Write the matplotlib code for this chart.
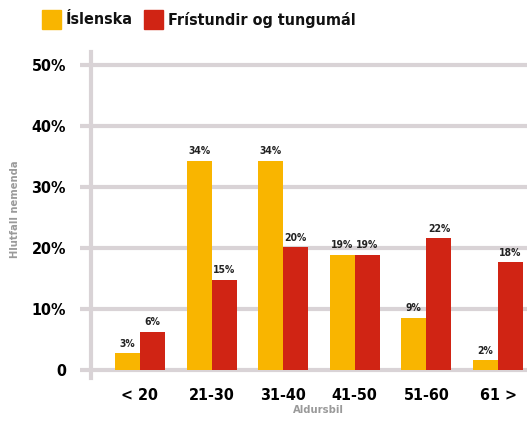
import matplotlib
matplotlib.use("Agg")
import matplotlib.pyplot as plt
from matplotlib import font_manager
from matplotlib.font_manager import FontProperties
import numpy as np

# data
groups = ["< 20", "21-30", "31-40", "41-50", "51-60", "61 >"]
islenska = [2.8, 34.3, 34.3, 18.9, 8.6, 1.6]
fristundir = [6.3, 14.8, 20.1, 18.9, 21.6, 17.7]
series_names = ["Íslenska", "Frístundir og tungumál"]
yticks = [0, 10, 20, 30, 40, 50]
ytick_labels = ["0", "10%", "20%", "30%", "40%", "50%"]

yellow = "#F9B500"
red = "#D02414"
grid = "#D9D3D6"

# look for a condensed/narrow bold font file
path = None
for f in font_manager.fontManager.ttflist:
    low = f.fname.lower()
    if ("condensed" in low or "narrow" in low) and "bold" in low and "oblique" not in low and "italic" not in low:
        path = f.fname
        break


def fp(size):
    if path:
        return FontProperties(fname=path, size=size)
    return FontProperties(family="DejaVu Sans", weight="bold", size=size * 0.8)


fig = plt.figure(figsize=(5.27, 4.34), dpi=100)
ax = fig.add_axes([91 / 527, 56 / 434, 436 / 527, 326 / 434])

x = np.arange(len(groups))
w = 0.35
b1 = ax.bar(x - w / 2, islenska, w, color=yellow, zorder=3)
b2 = ax.bar(x + w / 2, fristundir, w, color=red, zorder=3)

for bars, vals in ((b1, islenska), (b2, fristundir)):
    for rect, v in zip(bars, vals):
        ax.text(rect.get_x() + rect.get_width() / 2, v + 0.7, f"{v:.0f}%",
                ha="center", va="bottom", fontproperties=fp(7.5), color="#222222")

ax.set_xlim(-0.684, 5.405)
ax.set_ylim(-1.3, 52.1)
ax.set_yticks(yticks)
ax.set_yticklabels(ytick_labels, fontproperties=fp(11.5))
ax.set_xticks(x)
ax.set_xticklabels(groups, fontproperties=fp(11.5))
ax.tick_params(axis="y", length=8, width=3, color=grid, pad=10)
ax.tick_params(axis="x", length=0, pad=7)
ax.yaxis.grid(True, color=grid, linewidth=3, zorder=0)

for s in ("top", "right", "bottom"):
    ax.spines[s].set_visible(False)
ax.spines["left"].set_color(grid)
ax.spines["left"].set_linewidth(3)

fig.text(318 / 527, 1 - 410 / 434, "Aldursbil", ha="center", va="center",
         fontproperties=fp(8), color="#9A9A9A")
fig.text(15 / 527, 1 - 209 / 434, "Hlutfall nemenda", ha="center", va="center",
         rotation=90, fontproperties=fp(8), color="#9A9A9A")

# legend drawn by hand at the top
for px, col, name in ((42, yellow, series_names[0]), (144, red, series_names[1])):
    fig.patches.append(plt.Rectangle((px / 527, 1 - 29 / 434), 19 / 527, 19 / 434,
                                     transform=fig.transFigure, color=col))
    fig.text((px + 24) / 527, 1 - 20 / 434, name, ha="left", va="center",
             fontproperties=fp(11.5), color="#111111")

fig.savefig("out.png", dpi=100)
